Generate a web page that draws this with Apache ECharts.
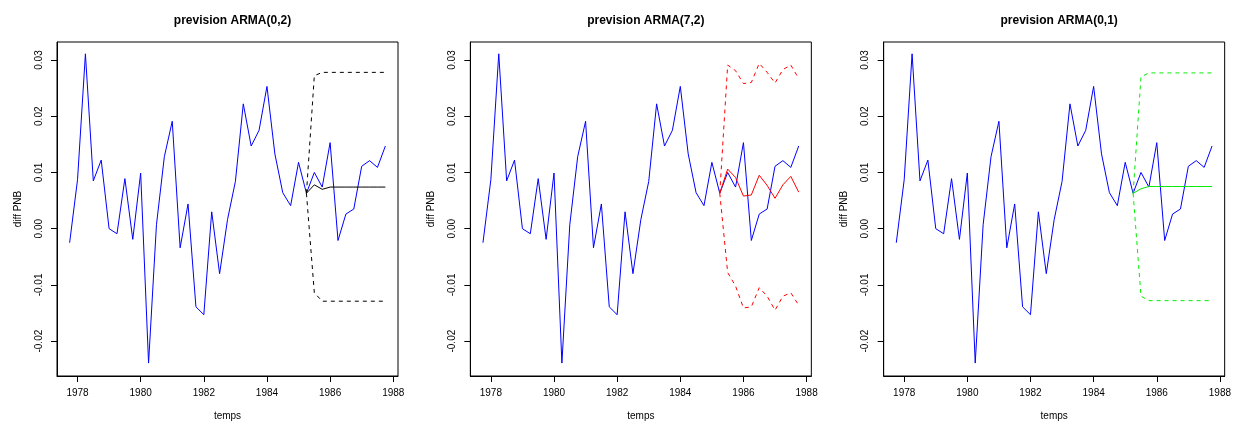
<!DOCTYPE html>
<html>
<head>
<meta charset="utf-8">
<script src="https://cdn.jsdelivr.net/npm/echarts@6/dist/echarts.min.js"></script>
<style>
html,body{margin:0;padding:0;background:#fff;}
#c{width:1240px;height:426px;}
</style>
</head>
<body>
<div id="c"></div>
<script>
// ---- data (quarterly) ----
const obsStart = 1977.75;
const fcStart = 1985.25;
const diffPNB = [-0.0025, 0.0087, 0.0311, 0.0085, 0.0122, 0.0000, -0.0009, 0.0089, -0.0019, 0.0099,
  -0.0239, 0.0007, 0.0128, 0.0191, -0.0034, 0.0044, -0.0139, -0.0153, 0.0030, -0.0080,
  0.0016, 0.0084, 0.0222, 0.0147, 0.0175, 0.0253, 0.0133, 0.0064, 0.0041, 0.0118,
  0.0063, 0.0100, 0.0074, 0.0153, -0.0021, 0.0026, 0.0035, 0.0111, 0.0121, 0.0109, 0.0147];

const arma02Pred = [0.0063, 0.0078, 0.0070, 0.0074, 0.0074, 0.0074, 0.0074, 0.0074, 0.0074, 0.0074, 0.0074];
const arma02Up   = [0.0063, 0.0272, 0.0278, 0.0278, 0.0278, 0.0278, 0.0278, 0.0278, 0.0278, 0.0278, 0.0278];
const arma02Lo   = [0.0063, -0.0114, -0.0129, -0.0129, -0.0129, -0.0129, -0.0129, -0.0129, -0.0129, -0.0129, -0.0129];

const arma72Pred = [0.0063, 0.0106, 0.0091, 0.0058, 0.0060, 0.0095, 0.0077, 0.0054, 0.0078, 0.0093, 0.0065];
const arma72Up   = [0.0063, 0.0291, 0.0281, 0.0258, 0.0260, 0.0294, 0.0278, 0.0259, 0.0283, 0.0291, 0.0267];
const arma72Lo   = [0.0063, -0.0078, -0.0102, -0.0141, -0.0139, -0.0105, -0.0120, -0.0145, -0.0120, -0.0114, -0.0136];

const arma01Pred = [0.0063, 0.0071, 0.0075, 0.0075, 0.0075, 0.0075, 0.0075, 0.0075, 0.0075, 0.0075, 0.0075];
const arma01Up   = [0.0063, 0.0270, 0.0277, 0.0277, 0.0277, 0.0277, 0.0277, 0.0277, 0.0277, 0.0277, 0.0277];
const arma01Lo   = [0.0063, -0.0120, -0.0128, -0.0128, -0.0128, -0.0128, -0.0128, -0.0128, -0.0128, -0.0128, -0.0128];

const xTicks = [1978, 1980, 1982, 1984, 1986, 1988];
const yTicks = [-0.02, -0.01, 0.00, 0.01, 0.02, 0.03];
const titles = ['prevision ARMA(0,2)', 'prevision ARMA(7,2)', 'prevision ARMA(0,1)'];
const colors = ['#000000', '#ff0000', '#00ee00'];
const panels = [
  [arma02Pred, arma02Up, arma02Lo],
  [arma72Pred, arma72Up, arma72Lo],
  [arma01Pred, arma01Up, arma01Lo]
];

// ---- build ----
const FONT = '"Liberation Sans", Arial, Helvetica, sans-serif';
function toPairs(start, vals) { return vals.map((v, i) => [start + i * 0.25, v]); }

const option = { animation: false, backgroundColor: '#fff', title: [], grid: [], xAxis: [], yAxis: [], series: [] };
const PW = 1240 / 3;
panels.forEach((p, k) => {
  const left = 57 + k * PW;
  option.grid.push({ left: left, top: 42, width: 341, height: 335, show: true, borderColor: '#000', borderWidth: 1, backgroundColor: 'transparent' });
  option.title.push({
    text: titles[k], left: left + 170.5, top: 10, textAlign: 'center',
    textStyle: { fontFamily: FONT, fontSize: 12, fontWeight: 'bold', color: '#000' }
  });
  option.xAxis.push({
    type: 'value', gridIndex: k, min: 1977.35, max: 1988.15, position: 'bottom',
    name: 'temps', nameLocation: 'middle', nameGap: 35,
    nameTextStyle: { fontFamily: FONT, fontSize: 10, color: '#000' },
    axisLine: { show: true, onZero: false, lineStyle: { color: '#000', width: 1 } },
    axisTick: { show: true, inside: false, length: 6, customValues: xTicks, lineStyle: { color: '#000' } },
    axisLabel: { show: true, margin: 12, customValues: xTicks, fontFamily: FONT, fontSize: 10, color: '#000', formatter: v => String(Math.round(v)) },
    splitLine: { show: false }
  });
  option.yAxis.push({
    type: 'value', gridIndex: k, min: -0.0262, max: 0.0332, position: 'left',
    name: 'diff PNB', nameLocation: 'middle', nameGap: 34,
    nameTextStyle: { fontFamily: FONT, fontSize: 10, color: '#000' },
    axisLine: { show: true, onZero: false, lineStyle: { color: '#000', width: 1 } },
    axisTick: { show: true, inside: false, length: 6, customValues: yTicks, lineStyle: { color: '#000' } },
    axisLabel: { show: true, rotate: 90, margin: 13, customValues: yTicks, fontFamily: FONT, fontSize: 10, color: '#000', formatter: v => v.toFixed(2) },
    splitLine: { show: false }
  });
  option.series.push({
    type: 'line', xAxisIndex: k, yAxisIndex: k, data: toPairs(obsStart, diffPNB),
    showSymbol: false, symbol: 'none', lineStyle: { color: '#0000ff', width: 1 }, z: 2
  });
  option.series.push({
    type: 'line', xAxisIndex: k, yAxisIndex: k, data: toPairs(fcStart, p[0]),
    showSymbol: false, symbol: 'none', lineStyle: { color: colors[k], width: 1 }, z: 3
  });
  [p[1], p[2]].forEach(arr => option.series.push({
    type: 'line', xAxisIndex: k, yAxisIndex: k, data: toPairs(fcStart, arr),
    showSymbol: false, symbol: 'none', lineStyle: { color: colors[k], width: 1, type: [4, 4] }, z: 3
  }));
});

const chart = echarts.init(document.getElementById('c'), null, { renderer: 'canvas' });
chart.setOption(option);
</script>
</body>
</html>
